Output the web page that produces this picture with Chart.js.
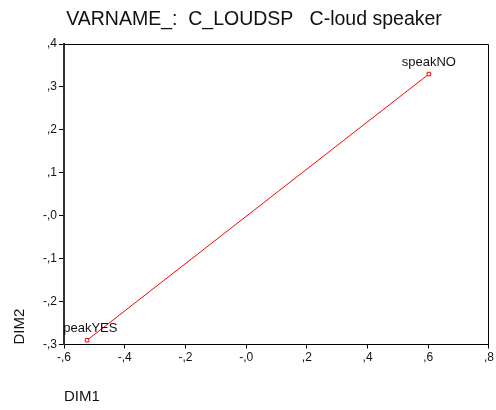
<!DOCTYPE html>
<html lang="en">

<head>
    <meta charset="UTF-8">
    <title>C_LOUDSP</title>
    <style>
        html, body { margin: 0; padding: 0; background: #fff; }
        .grafico { width: 496px; height: 410px; }
    </style>
</head>

<body>
    <div class="grafico">
        <canvas id="myChart" width="496" height="410"></canvas>
    </div>

    <script src="https://cdn.jsdelivr.net/npm/chart.js"></script>
    <script>
        // categorias e coordenadas (DIM1, DIM2)
        var categorias = ['speakYES', 'speakNO'];
        var dim1 = [-0.524, 0.602];
        var dim2 = [-0.290, 0.330];

        var xTickLabels = ['-,6', '-,4', '-,2', '-,0', ',2', ',4', ',6', ',8'];
        var yTickLabels = ['-,3', '-,2', '-,1', '-,0', ',1', ',2', ',3', ',4'];

        var fonte = "'Liberation Sans', Arial, sans-serif";

        var pontos = [];
        for (var i = 0; i < categorias.length; i++) {
            pontos.push({ x: dim1[i], y: dim2[i] });
        }

        // moldura em volta da area do grafico
        var moldura = {
            id: 'moldura',
            beforeDatasetsDraw: function (chart) {
                var a = chart.chartArea;
                var ctx = chart.ctx;
                ctx.save();
                ctx.strokeStyle = '#000';
                ctx.lineWidth = 1;
                ctx.beginPath();
                ctx.moveTo(a.left, a.top + 0.5);
                ctx.lineTo(a.right - 0.5, a.top + 0.5);
                ctx.lineTo(a.right - 0.5, a.bottom);
                ctx.stroke();
                ctx.restore();
            }
        };

        // rotulos dos pontos, cortados pela area do grafico
        var rotulos = {
            id: 'rotulos',
            afterDatasetsDraw: function (chart) {
                var ctx = chart.ctx;
                var a = chart.chartArea;
                var meta = chart.getDatasetMeta(0);
                ctx.save();
                ctx.beginPath();
                ctx.rect(a.left, a.top, a.right - a.left, a.bottom - a.top);
                ctx.clip();
                ctx.font = '13px ' + fonte;
                ctx.fillStyle = '#111';
                ctx.textAlign = 'center';
                ctx.textBaseline = 'alphabetic';
                for (var i = 0; i < meta.data.length; i++) {
                    var p = meta.data[i];
                    ctx.fillText(categorias[i], p.x, p.y - 8);
                }
                ctx.restore();
            }
        };

        var ctx = document.getElementById('myChart').getContext('2d');

        new Chart(ctx, {
            type: 'scatter',
            data: {
                datasets: [{
                    label: 'C_LOUDSP',
                    data: pontos,
                    showLine: true,
                    borderColor: '#ff0000',
                    borderWidth: 1,
                    backgroundColor: '#fff',
                    pointStyle: 'rect',
                    pointRadius: 2.5,
                    pointBorderWidth: 1,
                    pointBorderColor: '#ff0000',
                    pointBackgroundColor: '#fff',
                    clip: false
                }]
            },
            options: {
                responsive: false,
                animation: false,
                devicePixelRatio: 1,
                layout: {
                    padding: { left: 18, right: 6, top: 0, bottom: 0 }
                },
                scales: {
                    x: {
                        type: 'linear',
                        min: -0.6,
                        max: 0.8,
                        afterFit: function (scale) { scale.height = 65.5; },
                        ticks: {
                            stepSize: 0.2,
                            padding: 2,
                            color: '#111',
                            font: { family: fonte, size: 12 },
                            maxRotation: 0,
                            autoSkip: false,
                            callback: function (value, index) { return xTickLabels[index]; }
                        },
                        grid: {
                            drawOnChartArea: false,
                            drawTicks: true,
                            tickLength: 4,
                            color: '#000'
                        },
                        border: { display: true, color: '#000', width: 1 },
                        title: {
                            display: true,
                            text: 'DIM1',
                            align: 'start',
                            color: '#111',
                            font: { family: fonte, size: 15 },
                            padding: { top: 0, bottom: 4 }
                        }
                    },
                    y: {
                        type: 'linear',
                        min: -0.3,
                        max: 0.4,
                        afterFit: function (scale) { scale.width = 46; },
                        ticks: {
                            stepSize: 0.1,
                            padding: 2,
                            color: '#111',
                            font: { family: fonte, size: 12 },
                            autoSkip: false,
                            callback: function (value, index) { return yTickLabels[index]; }
                        },
                        grid: {
                            drawOnChartArea: false,
                            drawTicks: true,
                            tickLength: 5,
                            color: '#000'
                        },
                        border: { display: true, color: '#333', width: 2 },
                        title: {
                            display: true,
                            text: 'DIM2',
                            align: 'start',
                            color: '#111',
                            font: { family: fonte, size: 15 },
                            padding: { top: -7, bottom: 0 }
                        }
                    }
                },
                plugins: {
                    legend: { display: false },
                    tooltip: { enabled: false },
                    title: {
                        display: true,
                        text: 'VARNAME_:  C_LOUDSP   C-loud speaker',
                        color: '#111',
                        font: { family: fonte, size: 19.5, weight: 'normal' },
                        padding: { top: 8, bottom: 12.6 }
                    }
                }
            },
            plugins: [moldura, rotulos]
        });
    </script>
</body>

</html>
